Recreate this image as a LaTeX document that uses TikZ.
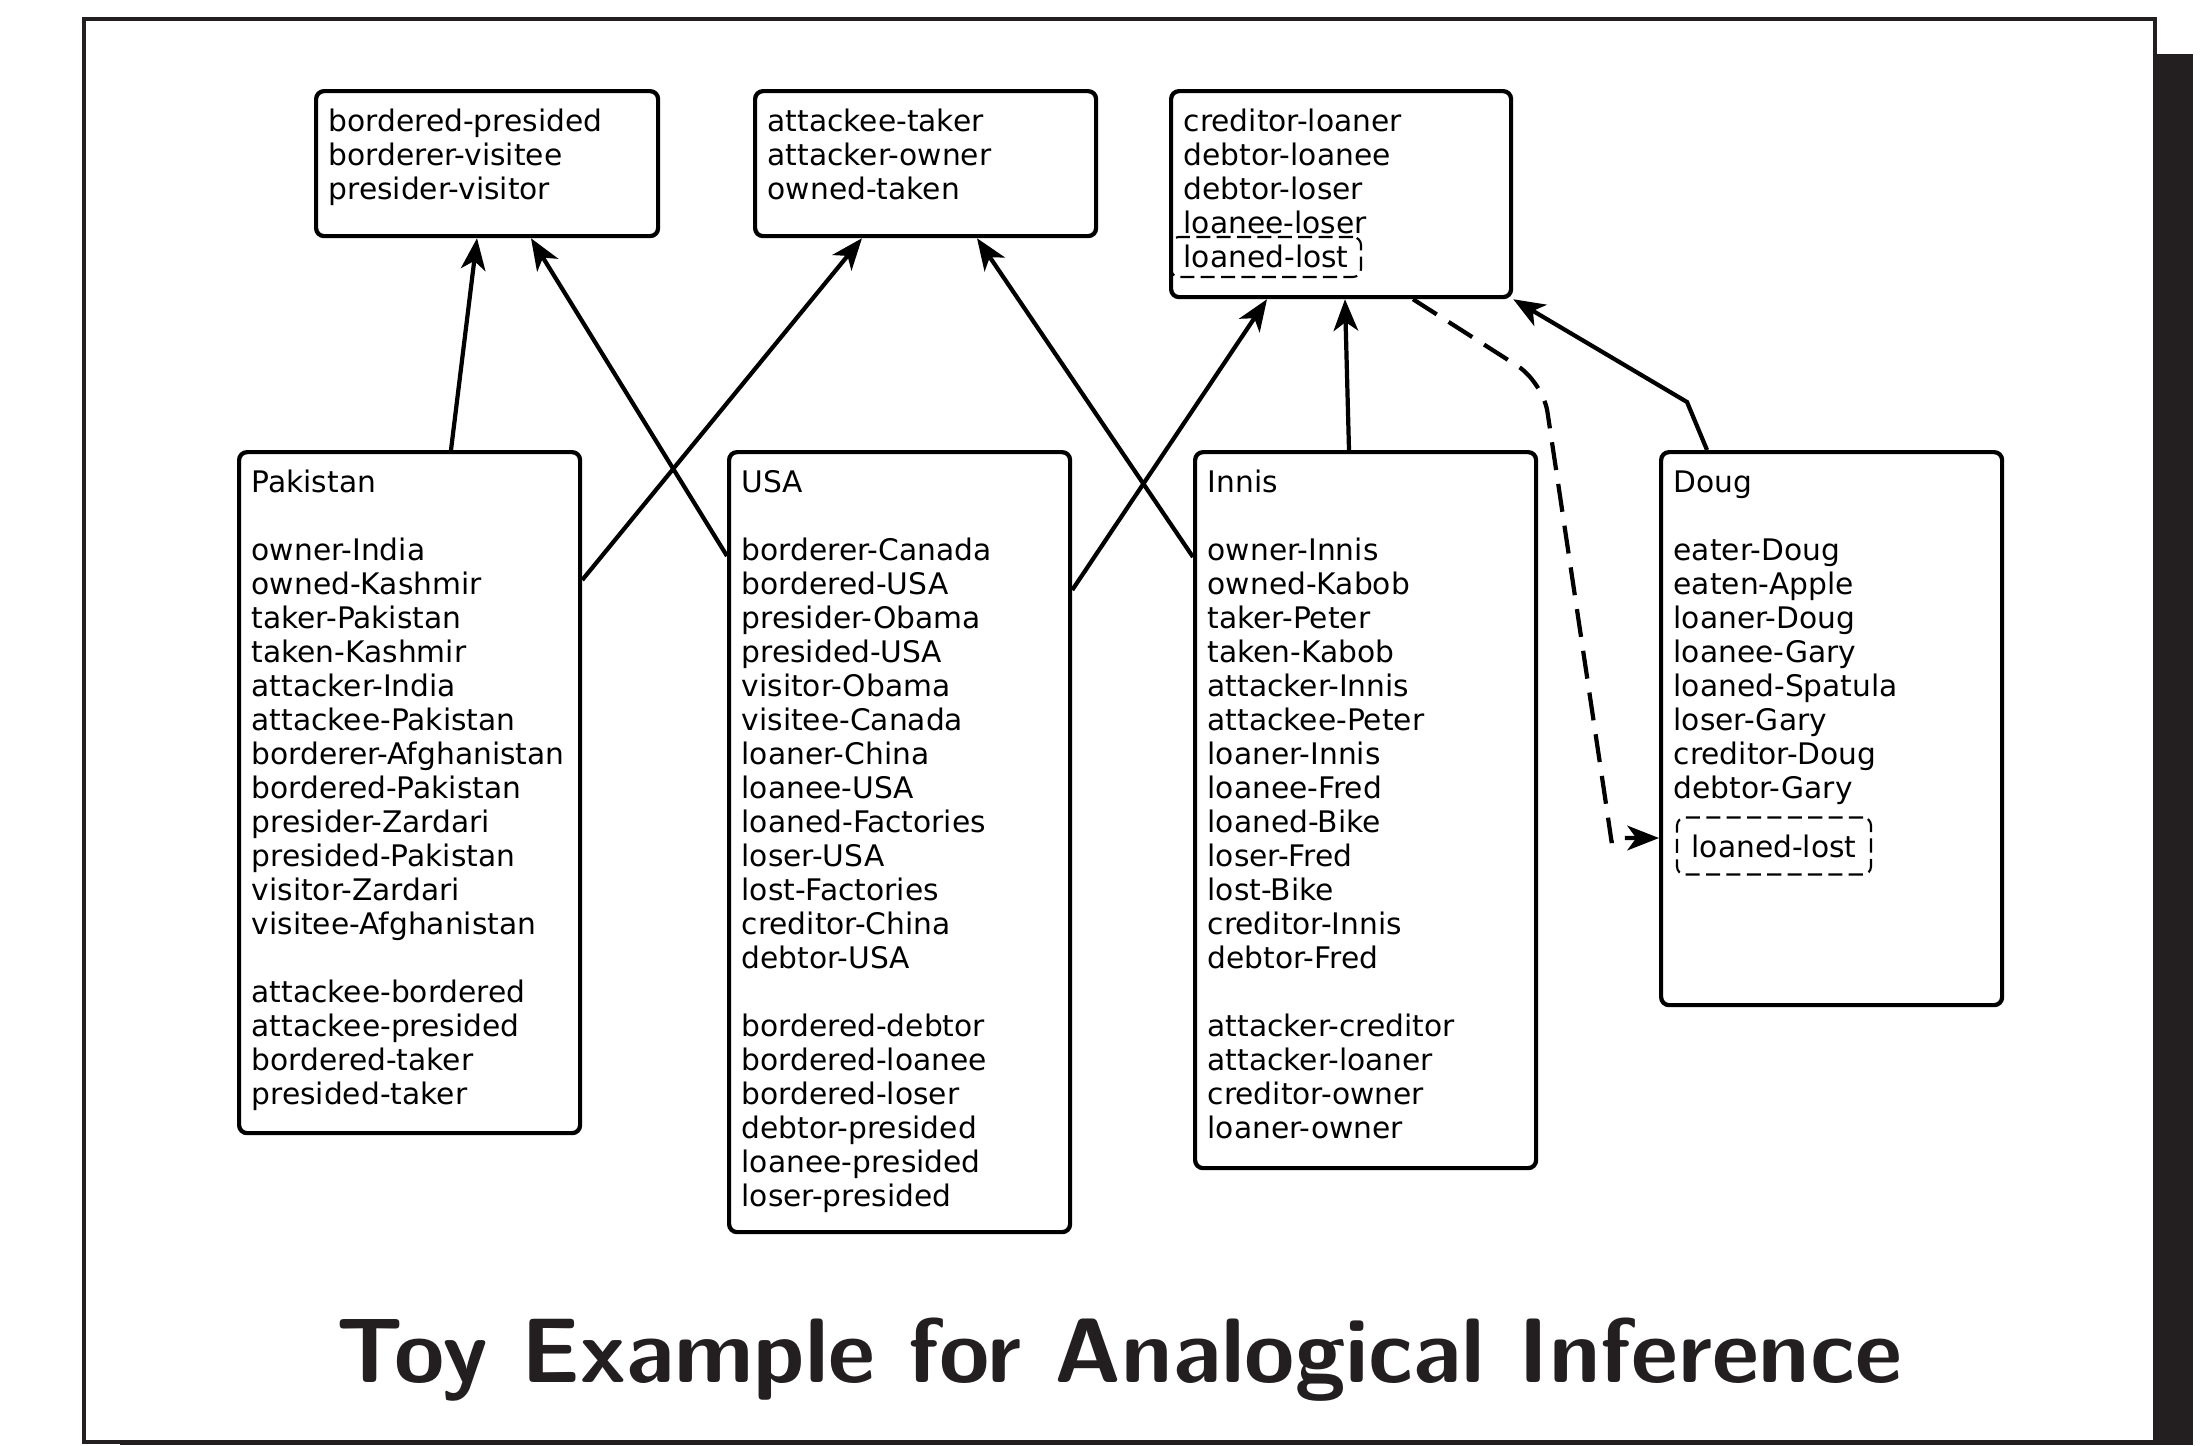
\documentclass[tikz,border=0pt]{standalone}
\usepackage{fontspec}
\setmainfont{DejaVu Sans}
\usetikzlibrary{arrows.meta,calc}
\definecolor{ink}{RGB}{35,31,32}
% one left-aligned column whose first baseline is the node's base
\newcommand\boxlines[1]{\begin{tabular}[t]{@{}l@{}}#1\end{tabular}}

\begin{document}
\begin{tikzpicture}[x=1cm,y=1cm,
  box/.style={draw=black, line width=1.2pt, rounded corners=0.08cm, fill=white,
              anchor=north west, inner sep=0pt},
  dashbox/.style={draw=black, line width=0.6pt, dash pattern=on 4pt off 1.8pt,
                  rounded corners=0.08cm, inner sep=0pt},
  txt/.style={anchor=base west, inner sep=0pt, font=\fontsize{8.45}{9.674}\selectfont},
  link/.style={line width=1.2pt, -{Stealth[length=9pt,width=7pt,inset=2.5pt]}},
  dlink/.style={link, dash pattern=on 8pt off 4pt, rounded corners=0.3cm},
]
\useasboundingbox (0,0) rectangle (22.08,-14.45);

% drop shadow and frame
\fill[ink] (1.20,-0.54) rectangle (21.93,-14.45);
\draw[ink, line width=1pt, fill=white] (0.84,-0.19) rectangle (21.55,-14.42);

% relation boxes (top row)
\node[box, minimum width=3.42cm, minimum height=1.45cm] (tA) at (3.14,-0.89) {};
\node[box, minimum width=3.41cm, minimum height=1.45cm] (tB) at (7.53,-0.89) {};
\node[box, minimum width=3.40cm, minimum height=2.06cm] (tC) at (11.69,-0.89) {};

\node[txt] (tAt) at ([shift={(0.14,-0.42)}]tA.north west)
  {\boxlines{bordered-presided\\borderer-visitee\\presider-visitor}};
\node[txt] (tBt) at ([shift={(0.14,-0.42)}]tB.north west)
  {\boxlines{attackee-taker\\attacker-owner\\owned-taken}};
\node[dashbox, minimum width=1.90cm, minimum height=0.40cm] (tCl)
  at ($(tC.north west)+(0.97,-1.68)$) {};
\node[txt] (tCt) at ([shift={(0.14,-0.42)}]tC.north west)
  {\boxlines{creditor-loaner\\debtor-loanee\\debtor-loser\\loanee-loser\\loaned-lost}};

% entity boxes (bottom row)
\node[box, minimum width=3.41cm, minimum height=6.81cm] (pak) at (2.37,-4.50) {};
\node[box, minimum width=3.41cm, minimum height=7.80cm] (usa) at (7.27,-4.50) {};
\node[box, minimum width=3.41cm, minimum height=7.16cm] (innis) at (11.93,-4.50) {};
\node[box, minimum width=3.41cm, minimum height=5.53cm] (doug) at (16.59,-4.50) {};

\node[txt] (pakt) at ([shift={(0.14,-0.42)}]pak.north west)
  {\boxlines{Pakistan\\ \\owner-India\\owned-Kashmir\\taker-Pakistan\\taken-Kashmir\\
   attacker-India\\attackee-Pakistan\\borderer-Afghanistan\\bordered-Pakistan\\
   presider-Zardari\\presided-Pakistan\\visitor-Zardari\\visitee-Afghanistan\\ \\
   attackee-bordered\\attackee-presided\\bordered-taker\\presided-taker}};
\node[txt] (usat) at ([shift={(0.14,-0.42)}]usa.north west)
  {\boxlines{USA\\ \\borderer-Canada\\bordered-USA\\presider-Obama\\presided-USA\\
   visitor-Obama\\visitee-Canada\\loaner-China\\loanee-USA\\loaned-Factories\\
   loser-USA\\lost-Factories\\creditor-China\\debtor-USA\\ \\
   bordered-debtor\\bordered-loanee\\bordered-loser\\debtor-presided\\
   loanee-presided\\loser-presided}};
\node[txt] (innist) at ([shift={(0.14,-0.42)}]innis.north west)
  {\boxlines{Innis\\ \\owner-Innis\\owned-Kabob\\taker-Peter\\taken-Kabob\\
   attacker-Innis\\attackee-Peter\\loaner-Innis\\loanee-Fred\\loaned-Bike\\
   loser-Fred\\lost-Bike\\creditor-Innis\\debtor-Fred\\ \\
   attacker-creditor\\attacker-loaner\\creditor-owner\\loaner-owner}};
\node[txt] (dougt) at ([shift={(0.14,-0.42)}]doug.north west)
  {\boxlines{Doug\\ \\eater-Doug\\eaten-Apple\\loaner-Doug\\loanee-Gary\\
   loaned-Spatula\\loser-Gary\\creditor-Doug\\debtor-Gary}};
\node[dashbox, minimum width=1.94cm, minimum height=0.57cm,
      font=\fontsize{8.45}{9.674}\selectfont] (dlost)
  at ($(doug.north west)+(1.15,-3.96)$) {loaned-lost};

% mappings from entities to relation groups
\draw[link] ([xshift=2.14cm]pak.north west) -- ([xshift=1.63cm]tA.south west);
\draw[link] ([yshift=-1.06cm]usa.north west) -- ([xshift=2.17cm]tA.south west);
\draw[link] ([yshift=-1.30cm]pak.north east) -- ([xshift=1.09cm]tB.south west);
\draw[link] ([yshift=-1.07cm]innis.north west) -- ([xshift=2.24cm]tB.south west);
\draw[link] ([yshift=-1.40cm]usa.north east) -- ([xshift=0.98cm]tC.south west);
\draw[link] ([xshift=1.56cm]innis.north west) -- ([xshift=1.76cm]tC.south west);

\coordinate (dbend) at ($(doug.north west)+(0.28,0.48)$);
\draw[link] ([xshift=0.48cm]doug.north west) -- (dbend) -- (tC.south east);

% inferred relation carried over to Doug
\coordinate (c1) at ($(tC.south west)+(3.74,-0.83)$);
\coordinate (c2) at ($(doug.north west)+(-0.48,-3.88)$);
\coordinate (c3) at ($(c2)+(-0.036,0.247)$);
\draw[dlink] ([xshift=2.44cm]tC.south west) -- (c1) -- (c3)
  .. controls (c2) .. ([yshift=-3.88cm]doug.north west);

% title
\node[font=\sffamily\bfseries\fontsize{26.05}{30}\selectfont, text=ink, anchor=base]
  (title) at (11.19,-13.82) {Toy Example for Analogical Inference};
\end{tikzpicture}
\end{document}
